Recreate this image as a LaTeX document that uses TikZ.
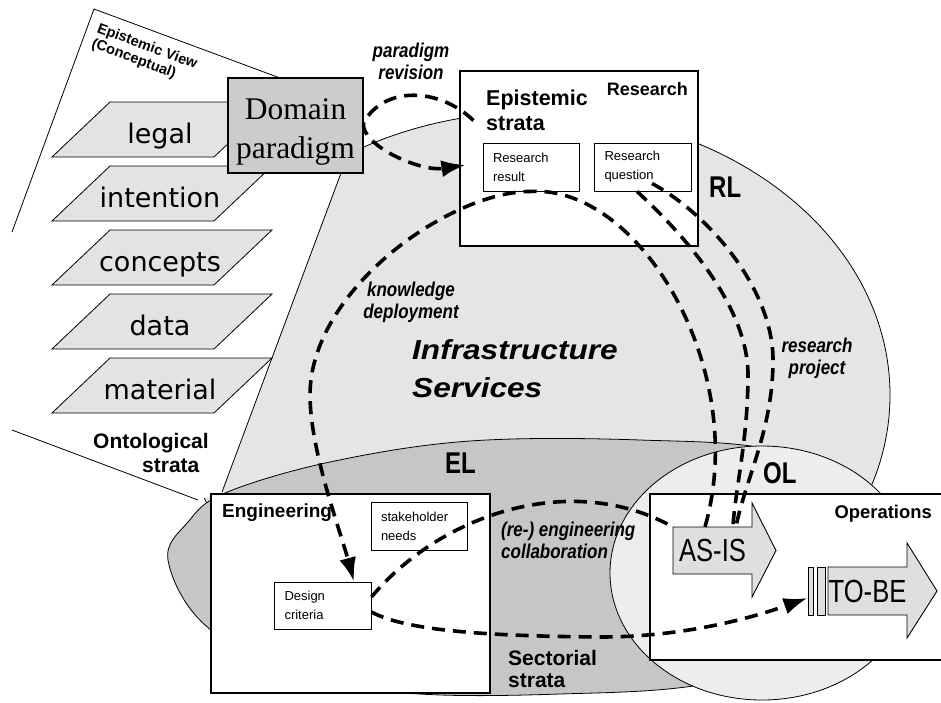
\documentclass[tikz,border=0pt]{standalone}
\usepackage{fontspec}
\setmainfont{Liberation Serif}
\setsansfont{Liberation Sans}
\newfontfamily\stratafont{DejaVu Sans}
\newfontfamily\narrowsans[FakeStretch=0.85]{Liberation Sans}
\newfontfamily\widesans[FakeStretch=1.15]{Liberation Sans}
\newfontfamily\levelsans[FakeStretch=0.8]{Liberation Sans}
\usetikzlibrary{arrows.meta}

\begin{document}
\begin{tikzpicture}[
    x=1pt, y=-1pt,
    font=\sffamily,
    ring/.style={draw, line width=0.8pt},
    stratum/.style={draw, fill=gray!22, line width=0.8pt},
    stratumtext/.style={font=\stratafont\fontsize{27}{32}\selectfont, anchor=base, inner sep=0pt},
    zone/.style={draw, fill=white, line width=1.1pt, inner sep=0pt},
    cell/.style={draw, fill=white, line width=0.9pt, inner sep=0pt, minimum width=96pt, minimum height=48pt, text width=76pt, align=left, font=\sffamily\fontsize{13}{19}\selectfont},
    heading/.style={inner sep=0pt},
    note/.style={font=\narrowsans\bfseries\itshape\fontsize{20}{22}\selectfont, inner sep=0pt},
    lvl/.style={font=\levelsans\bfseries\fontsize{30}{30}\selectfont, inner sep=0pt},
    shaft/.style={draw, fill=gray!25, line width=0.9pt},
    slot/.style={draw, fill=gray!25, line width=0.9pt, inner sep=0pt, minimum height=48pt},
    flow/.style={line width=3.6pt, dash pattern=on 13pt off 8pt},
    flowtip/.style={-{Latex[length=24pt,width=17pt]}}
  ]
    \useasboundingbox (0,0) rectangle (941,702);
    \clip (0,0) rectangle (941,702);

    % layers
    \draw[ring, fill=gray!20] (535,395) ellipse [x radius=355pt, y radius=283pt];
    \draw[ring, fill=gray!45] plot[smooth cycle, tension=0.6] coordinates {
      (168,560) (188,522) (225,493) (330,462) (470,441) (640,440) (780,452)
      (870,505) (905,580) (840,650) (700,685) (560,694) (420,694) (300,678) (205,625)};
    \draw[ring, fill=gray!14] (762,573) ellipse [x radius=152pt, y radius=127pt];

    % epistemic view
    \fill[white] (94,9) -- (280,78) -- (341,173) -- (222,492) -- (198,500) -- (12,430) -- (12,232) -- cycle;
    \draw[line width=0.8pt] (12,232) -- (94,9) -- (280,78);
    \draw[line width=0.8pt] (341,173) -- (222,492);
    \draw[line width=0.8pt] (198,500) -- (12,430);
    \node[heading, rotate=-20.4, anchor=north west, align=left,
      font=\sffamily\bfseries\fontsize{14.5}{16}\selectfont] (view) at (100,22) {Epistemic View\\(Conceptual)};

    \foreach \name/\yy in {legal/102, intention/166, concepts/230, data/294, material/358} {
      \draw[stratum] (52,\yy+55) -- (214,\yy+55) -- (272,\yy) -- (110,\yy) -- cycle;
      \node[stratumtext] (\name) at (160,\yy+41) {\name};
    }
    \node[heading, anchor=north west, align=left, font=\sffamily\bfseries\fontsize{21}{24}\selectfont]
      (ontological) at (93,433) {Ontological\\\hspace*{49pt}strata};

    \node[zone, fill=gray!40, minimum width=135pt, minimum height=95pt, align=center,
      font=\rmfamily\fontsize{31.5}{39}\selectfont] (domain) at (295.5,125.5) {\rule{0pt}{33pt}Domain\\paradigm};

    % research
    \node[zone, minimum width=238pt, minimum height=175pt] (research) at (579,158.5) {};
    \node[cell] (result) at (531,167) {Research\\result};
    \node[cell, minimum width=97pt] (question) at (642.5,167) {Research\\question};
    \node[heading, anchor=base east, font=\sffamily\bfseries\fontsize{18}{22}\selectfont] at (688,95) {Research};
    \node[heading, anchor=north west, align=left, font=\sffamily\bfseries\fontsize{21.5}{25}\selectfont]
      (epistemic) at (486,90) {Epistemic\\strata};

    % engineering
    \node[zone, minimum width=279pt, minimum height=199pt] (engineering) at (350.5,593.5) {};
    \node[cell] (needs) at (419,526) {stakeholder\\needs};
    \node[cell, minimum width=97pt, minimum height=47pt] (design) at (322.5,605.5) {Design\\criteria};
    \node[heading, anchor=base west, font=\sffamily\bfseries\fontsize{19}{22}\selectfont] at (222,517) {Engineering};

    % operations
    \node[zone, minimum width=300pt, minimum height=166pt] (operations) at (800,577) {};
    \node[heading, anchor=base east, font=\sffamily\bfseries\fontsize{18.4}{22}\selectfont] at (932,518) {Operations};
    \draw[shaft] (673,527) -- (752,527) -- (752,503) -- (776,550.5) -- (752,597) -- (752,574) -- (673,574) -- cycle;
    \node[inner sep=0pt, minimum width=79pt, minimum height=47pt,
      font=\levelsans\fontsize{32}{32}\selectfont] (asis) at (712.5,550.5) {AS-IS};
    \draw[shaft] (828,567) -- (907,567) -- (907,543) -- (937,591) -- (907,638) -- (907,615) -- (828,615) -- cycle;
    \node[inner sep=0pt, minimum width=79pt, minimum height=48pt,
      font=\levelsans\fontsize{32}{32}\selectfont] (tobe) at (867.5,591) {TO-BE};
    \node[slot, minimum width=5pt] (gate) at (810.5,591) {};
    \node[slot, minimum width=8pt] (gate2) at (821,591) {};

    % level labels
    \node[lvl, anchor=base west] at (709,197) {RL};
    \node[lvl, anchor=base west] at (763,483) {OL};
    \node[lvl, anchor=base west] at (445,473) {EL};
    \node[heading, anchor=north west, align=left, font=\sffamily\bfseries\fontsize{21}{22}\selectfont]
      (sectorial) at (508,650) {Sectorial\\strata};
    \node[heading, anchor=north west, align=left, font=\widesans\bfseries\itshape\fontsize{27.5}{38}\selectfont]
      (infra) at (412,339) {Infrastructure\\Services};

    % flows
    \draw[flow] ([xshift=14pt,yshift=38pt]research.west)
      .. controls (440,88) and (385,85) .. ([yshift=3pt]domain.east);
    \draw[flow, flowtip] ([yshift=3pt]domain.east)
      .. controls (360,145) and (420,172) .. ([xshift=6pt,yshift=-6.5pt]research.west);
    \draw[flow, flowtip] ([xshift=-7.5pt]asis.north)
      .. controls (750,370) and (640,185) .. (result.south)
      .. controls (450,191) and (310,290) .. (310,395)
      .. controls (310,450) and (340,530) .. ([xshift=31.5pt]design.north);
    \draw[flow] ([xshift=-5.5pt]question.south)
      .. controls (690,240) and (748,310) .. (748,375)
      .. controls (748,440) and (735,490) .. ([xshift=20.5pt]asis.north);
    \draw[flow] ([xshift=9.5pt,yshift=8pt]question.south)
      .. controls (710,215) and (773,290) .. (773,360)
      .. controls (773,430) and (745,480) .. ([xshift=23.5pt]asis.north);
    \draw[flow] ([yshift=8.5pt]design.east)
      .. controls (440,515) and (570,470) .. (asis.north west);
    \draw[flow, flowtip] ([yshift=-6.5pt]design.east)
      .. controls (405,630) and (480,636) .. (600,637)
      .. controls (690,637) and (760,615) .. ([yshift=-7pt]gate.west);

    % flow labels
    \node[note, anchor=north, align=center] at (411,42.5) {paradigm\\revision};
    \node[note, anchor=north, align=center] at (411,282) {knowledge\\deployment};
    \node[note, anchor=north, align=center] at (817,338) {research\\project};
    \node[note, anchor=north west, align=left] at (501,522) {(re-) engineering\\collaboration};
  \end{tikzpicture}
\end{document}
